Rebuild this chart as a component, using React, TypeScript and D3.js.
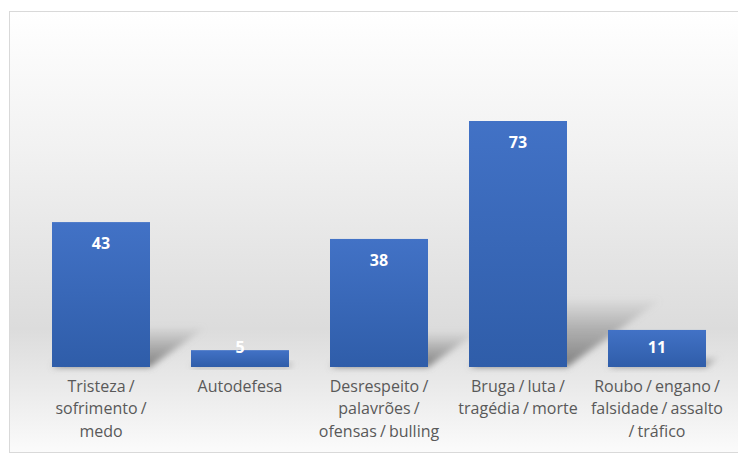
import React from "react";
import * as d3 from "d3";

const categories: string[][] = [
  ["Tristeza /", "sofrimento /", "medo"],
  ["Autodefesa"],
  ["Desrespeito /", "palavrões /", "ofensas / bulling"],
  ["Bruga / luta /", "tragédia / morte"],
  ["Roubo / engano /", "falsidade / assalto", "/ tráfico"],
];
const values: number[] = [43, 5, 38, 73, 11];

const W = 738;
const H = 454;
const frame = { x: 9.5, y: 11.5, w: 740, h: 441 };
const baseline = 367;
const plotTop = 121;

export default function App() {
  const ids = categories.map((_, i) => String(i));
  const x = d3
    .scaleBand<string>()
    .domain(ids)
    .range([31.5, 726.5])
    .paddingInner(0.295)
    .paddingOuter(0.1475);
  const y = d3.scaleLinear().domain([0, 73]).range([baseline, plotTop]);
  const bw = x.bandwidth();

  return (
    <div style={{ position: "absolute", left: 0, top: 0 }}>
      <svg width={W} height={H} style={{ display: "block" }}>
        <defs>
          <linearGradient id="bg" x1="0" y1="0" x2="0" y2="1">
            <stop offset="0" stopColor="#ffffff" />
            <stop offset="0.3" stopColor="#f2f2f2" />
            <stop offset="0.72" stopColor="#dcdcdc" />
            <stop offset="0.86" stopColor="#ebebeb" />
            <stop offset="1" stopColor="#fbfbfb" />
          </linearGradient>
          <linearGradient id="bar" x1="0" y1="0" x2="0" y2="1">
            <stop offset="0" stopColor="#4272c6" />
            <stop offset="1" stopColor="#2f5da9" />
          </linearGradient>
          <linearGradient id="shade" x1="0" y1="1" x2="0" y2="0">
            <stop offset="0" stopColor="#777777" stopOpacity="0.95" />
            <stop offset="0.6" stopColor="#8e8e8e" stopOpacity="0.55" />
            <stop offset="1" stopColor="#a0a0a0" stopOpacity="0.1" />
          </linearGradient>
          <filter id="soft" x="-50%" y="-50%" width="200%" height="200%">
            <feGaussianBlur stdDeviation="3" />
          </filter>
        </defs>
        <rect x={0} y={0} width={W} height={H} fill="#ffffff" />
        <rect
          x={frame.x}
          y={frame.y}
          width={frame.w}
          height={frame.h}
          fill="url(#bg)"
          stroke="#d9d9d9"
          strokeWidth={1}
        />
        {/* perspective shadows cast behind the bars */}
        {values.map((v, i) => {
          const x0 = x(String(i))!;
          const h = (baseline - y(v)) * 0.27;
          const dx = h * 1.4;
          const pts = [
            [x0, baseline],
            [x0 + bw, baseline],
            [x0 + bw + dx, baseline - h],
            [x0 + dx, baseline - h],
          ]
            .map((p) => p.join(","))
            .join(" ");
          return (
            <polygon key={"s" + i} points={pts} fill="url(#shade)" filter="url(#soft)" />
          );
        })}
        {values.map((v, i) => (
          <rect
            key={"b" + i}
            x={x(String(i))!}
            y={y(v)}
            width={bw}
            height={baseline - y(v)}
            fill="url(#bar)"
          />
        ))}
        {values.map((v, i) => {
          const cy = Math.min(y(v) + 21, baseline - 20);
          return (
            <text
              key={"v" + i}
              x={x(String(i))! + bw / 2}
              y={cy}
              dy="0.35em"
              textAnchor="middle"
              fill="#ffffff"
              fontFamily="'Open Sans', 'Noto Sans', sans-serif"
              fontWeight={700}
              fontSize={16}
            >
              {v}
            </text>
          );
        })}
        {categories.map((lines, i) => (
          <text
            key={"c" + i}
            x={x(String(i))! + bw / 2}
            textAnchor="middle"
            fill="#595959"
            fontFamily="'Open Sans', 'Noto Sans', sans-serif"
            fontSize={16}
            wordSpacing={-1}
          >
            {lines.map((l, j) => (
              <tspan key={j} x={x(String(i))! + bw / 2} y={386 + j * 22.5} dy="0.35em">
                {l}
              </tspan>
            ))}
          </text>
        ))}
      </svg>
    </div>
  );
}
